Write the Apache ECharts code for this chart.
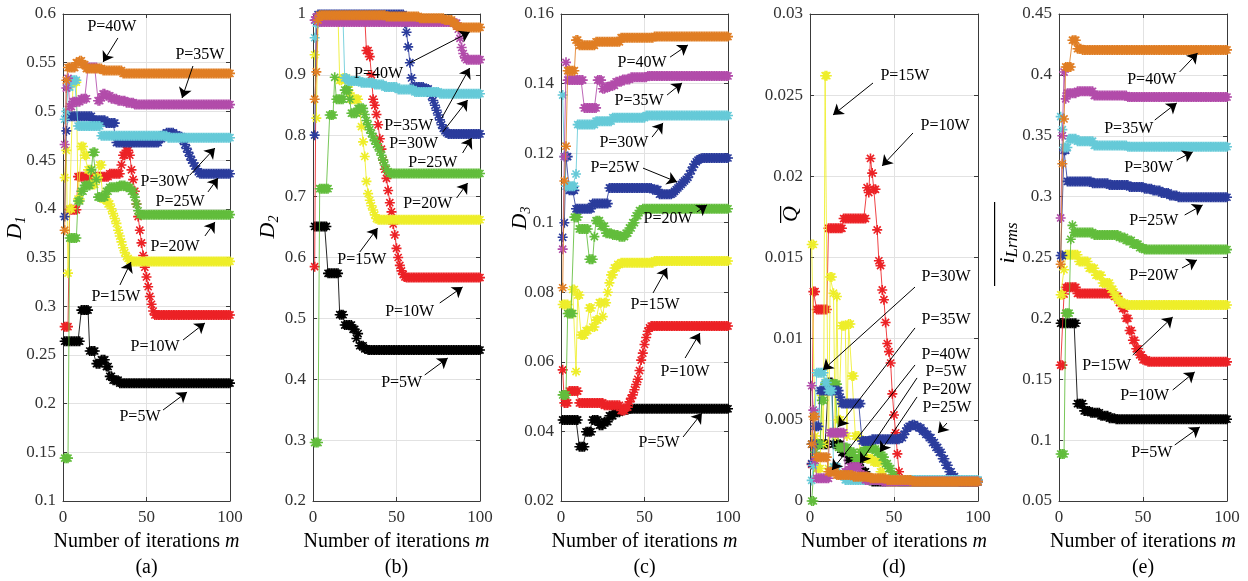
<!DOCTYPE html>
<html><head><meta charset="utf-8">
<script src="https://cdn.jsdelivr.net/npm/echarts/dist/echarts.min.js"></script>
<style>html,body{margin:0;padding:0;background:#fff}#c{width:1248px;height:581px}</style>
</head><body><div id="c"></div>
<script>
// ---------- labels ----------
const powerLabels = ['P=5W','P=10W','P=15W','P=20W','P=25W','P=30W','P=35W','P=40W'];
const iterTicks = [0, 50, 100];
// ---------- data: run-length lists [value, number of consecutive iterations], iterations 1..100 ----------
// (a) D1
const d1_5W  = [[0.264,10],[0.296,5],[0.254,4],[0.241,3],[0.245,3],[0.238,2],[0.228,2],[0.224,4],[0.221,67]];
const d1_10W = [[0.279,3],[0.399,5],[0.433,19],[0.436,7],[0.445,1],[0.455,2],[0.46,2],[0.455,1],[0.44,1],[0.43,1],[0.418,1],[0.405,1],[0.392,1],[0.378,1],[0.365,1],[0.352,1],[0.34,1],[0.33,1],[0.32,1],[0.31,1],[0.302,1],[0.295,1],[0.291,46]];
const d1_15W = [[0.432,1],[0.46,1],[0.334,1],[0.40,2],[0.53,3],[0.41,2],[0.464,2],[0.455,2],[0.44,2],[0.425,3],[0.432,2],[0.445,2],[0.41,3],[0.405,2],[0.40,1],[0.395,1],[0.39,1],[0.385,1],[0.378,1],[0.372,1],[0.366,1],[0.36,1],[0.355,1],[0.351,1],[0.349,1],[0.347,1],[0.346,60]];
const d1_20W = [[0.144,3],[0.37,5],[0.408,2],[0.418,2],[0.424,4],[0.44,1],[0.458,2],[0.43,1],[0.412,5],[0.418,2],[0.422,6],[0.424,4],[0.422,3],[0.418,2],[0.412,1],[0.405,1],[0.398,1],[0.394,55]];
const d1_25W = [[0.392,1],[0.48,1],[0.495,15],[0.491,8],[0.488,6],[0.468,26],[0.472,2],[0.476,2],[0.478,5],[0.476,2],[0.474,3],[0.47,1],[0.466,1],[0.462,1],[0.458,1],[0.454,1],[0.45,1],[0.447,1],[0.444,1],[0.441,1],[0.438,1],[0.436,19]];
const d1_30W = [[0.492,1],[0.50,1],[0.525,2],[0.532,4],[0.485,14],[0.475,40],[0.473,38]];
const d1_35W = [[0.466,1],[0.524,1],[0.534,1],[0.505,2],[0.51,5],[0.513,4],[0.545,6],[0.511,2],[0.514,1],[0.518,2],[0.516,3],[0.513,4],[0.511,5],[0.509,5],[0.507,58]];
const d1_40W = [[0.378,1],[0.532,1],[0.545,5],[0.55,2],[0.552,2],[0.548,2],[0.544,10],[0.542,12],[0.539,65]];
// (b) D2
const d2_5W  = [[0.651,8],[0.574,7],[0.506,3],[0.489,5],[0.482,2],[0.467,1],[0.475,1],[0.455,3],[0.45,2],[0.448,68]];
const d2_10W = [[0.585,1],[0.99,1],[0.995,29],[0.94,2],[0.93,1],[0.9,1],[0.86,1],[0.85,1],[0.835,1],[0.818,1],[0.795,1],[0.778,1],[0.76,1],[0.745,1],[0.73,1],[0.71,1],[0.69,1],[0.675,1],[0.655,1],[0.637,1],[0.615,1],[0.6,1],[0.587,1],[0.578,1],[0.572,1],[0.568,1],[0.567,45]];
const d2_15W = [[0.933,1],[0.829,1],[0.99,2],[0.995,11],[0.891,2],[0.895,3],[0.88,1],[0.87,1],[0.86,5],[0.84,1],[0.815,1],[0.79,1],[0.766,1],[0.725,1],[0.705,1],[0.694,1],[0.685,1],[0.678,1],[0.67,1],[0.664,1],[0.662,62]];
const d2_20W = [[0.296,3],[0.713,6],[0.834,3],[0.896,1],[0.86,5],[0.875,3],[0.86,1],[0.837,4],[0.845,4],[0.835,1],[0.825,1],[0.818,1],[0.81,1],[0.804,1],[0.798,1],[0.792,1],[0.786,1],[0.782,1],[0.775,1],[0.768,1],[0.76,1],[0.752,1],[0.745,1],[0.741,1],[0.738,55]];
const d2_25W = [[0.801,1],[0.99,1],[0.999,52],[0.985,1],[0.97,1],[0.946,1],[0.92,1],[0.895,1],[0.88,7],[0.877,3],[0.87,1],[0.865,1],[0.858,1],[0.85,1],[0.842,1],[0.834,1],[0.826,1],[0.818,1],[0.812,1],[0.808,1],[0.805,1],[0.803,20]];
const d2_30W = [[0.961,1],[0.985,2],[0.99,15],[0.895,2],[0.89,8],[0.887,8],[0.884,6],[0.88,8],[0.876,10],[0.872,15],[0.869,25]];
const d2_35W = [[0.99,1],[0.995,2],[0.987,80],[0.985,3],[0.975,1],[0.96,1],[0.945,1],[0.935,1],[0.928,1],[0.925,9]];
const d2_40W = [[0.86,1],[0.905,1],[0.99,1],[0.998,40],[0.996,20],[0.993,15],[0.99,5],[0.985,2],[0.98,2],[0.978,13]];
// (c) D3
const d3_5W  = [[0.0433,10],[0.0356,4],[0.0399,4],[0.0433,4],[0.0418,3],[0.0428,3],[0.0445,3],[0.0455,4],[0.0462,5],[0.0465,60]];
const d3_10W = [[0.0577,1],[0.0482,3],[0.0516,6],[0.0482,15],[0.0475,10],[0.046,3],[0.047,2],[0.0485,1],[0.0495,1],[0.0505,1],[0.052,1],[0.0535,1],[0.055,1],[0.0575,1],[0.0605,1],[0.0625,1],[0.065,1],[0.067,1],[0.0688,1],[0.0698,1],[0.0703,47]];
const d3_15W = [[0.0765,4],[0.074,2],[0.0808,2],[0.0572,1],[0.0792,2],[0.0677,3],[0.069,2],[0.0755,2],[0.07,2],[0.072,2],[0.077,2],[0.073,1],[0.077,2],[0.08,1],[0.0827,1],[0.085,2],[0.087,2],[0.088,2],[0.0885,20],[0.089,45]];
const d3_20W = [[0.0505,3],[0.0739,4],[0.1016,3],[0.0982,6],[0.0895,3],[0.096,1],[0.1006,3],[0.099,3],[0.097,4],[0.0965,4],[0.096,4],[0.097,2],[0.0985,2],[0.1,2],[0.102,2],[0.1035,2],[0.104,52]];
const d3_25W = [[0.0958,1],[0.1,1],[0.119,2],[0.1093,4],[0.104,10],[0.1055,10],[0.11,26],[0.1095,4],[0.1082,8],[0.1085,1],[0.109,1],[0.1095,1],[0.11,1],[0.1105,1],[0.111,1],[0.1115,1],[0.112,1],[0.1125,1],[0.113,1],[0.114,1],[0.115,1],[0.116,1],[0.1168,1],[0.1175,1],[0.118,1],[0.1183,1],[0.1185,1],[0.1186,16]];
const d3_30W = [[0.1367,1],[0.119,1],[0.1105,6],[0.114,1],[0.1282,11],[0.1292,10],[0.1302,20],[0.1308,50]];
const d3_35W = [[0.0924,1],[0.119,1],[0.1461,1],[0.141,10],[0.133,8],[0.141,3],[0.1385,2],[0.139,3],[0.1395,3],[0.1405,4],[0.1412,5],[0.1418,10],[0.1422,49]];
const d3_40W = [[0.0813,1],[0.112,1],[0.122,1],[0.1437,5],[0.1525,2],[0.151,10],[0.152,15],[0.1532,20],[0.1535,45]];
// (d) Q
const q_5W  = [[0.0035,10],[0.0073,3],[0.0035,5],[0.003,4],[0.0025,4],[0.0024,4],[0.0018,3],[0.0014,3],[0.0012,64]];
const q_10W = [[0.00225,1],[0.0129,2],[0.0118,7],[0.0168,9],[0.0174,14],[0.0193,1],[0.019,1],[0.0211,1],[0.0202,1],[0.0192,1],[0.0192,1],[0.0167,1],[0.0148,1],[0.0145,1],[0.013,1],[0.0124,1],[0.011,1],[0.0097,1],[0.0092,1],[0.0085,1],[0.0066,1],[0.0053,1],[0.0042,1],[0.0029,1],[0.0018,1],[0.0012,47]];
const q_15W = [[0.0158,2],[0.004,1],[0.002,3],[0.0065,1],[0.0035,1],[0.0262,2],[0.002,1],[0.0138,2],[0.0128,1],[0.004,1],[0.0126,1],[0.005,2],[0.0108,3],[0.004,1],[0.0109,2],[0.0077,2],[0.004,3],[0.003,4],[0.0026,4],[0.0024,4],[0.0018,2],[0.0014,2],[0.0012,55]];
const q_20W = [[0,2],[0.003,1],[0.0035,3],[0.0062,2],[0.0072,8],[0.0033,6],[0.003,4],[0.0026,3],[0.003,3],[0.0033,4],[0.0032,3],[0.003,3],[0.0027,2],[0.0023,2],[0.002,2],[0.0016,2],[0.0013,2],[0.0012,48]];
const q_25W = [[0.0023,1],[0.0035,1],[0.0046,3],[0.0068,12],[0.0064,1],[0.006,12],[0.0037,6],[0.0038,17],[0.0039,2],[0.0041,1],[0.0043,1],[0.0045,1],[0.0046,2],[0.0047,2],[0.0046,2],[0.0045,2],[0.0043,2],[0.0041,2],[0.0039,2],[0.0036,2],[0.0033,2],[0.003,2],[0.0026,2],[0.0022,2],[0.0018,2],[0.0015,2],[0.0013,2],[0.0012,12]];
const q_30W = [[0.00127,1],[0.0022,1],[0.0055,1],[0.0079,5],[0.0073,2],[0.0068,3],[0.0021,3],[0.0016,4],[0.0013,80]];
const q_35W = [[0.0071,1],[0.0056,1],[0.0025,1],[0.0014,8],[0.0042,9],[0.0018,3],[0.0021,6],[0.0016,3],[0.0013,10],[0.0012,58]];
const q_40W = [[0.0035,1],[0.0052,2],[0.0027,7],[0.0018,5],[0.0016,10],[0.0015,10],[0.0014,10],[0.0013,15],[0.0012,40]];
// (e) iLrms
const i_5W  = [[0.196,10],[0.1299,4],[0.124,4],[0.1225,6],[0.12,5],[0.118,4],[0.1172,67]];
const i_10W = [[0.1616,2],[0.22,1],[0.2255,7],[0.2205,22],[0.218,3],[0.213,2],[0.208,2],[0.2,2],[0.19,2],[0.182,2],[0.175,2],[0.17,2],[0.166,3],[0.1643,48]];
const i_15W = [[0.2194,2],[0.24,1],[0.2522,8],[0.2467,6],[0.2412,4],[0.2355,4],[0.229,5],[0.224,2],[0.219,2],[0.215,2],[0.2125,3],[0.211,61]];
const i_20W = [[0.0886,3],[0.2043,3],[0.265,1],[0.2764,1],[0.2705,12],[0.2685,15],[0.2665,4],[0.264,4],[0.261,4],[0.258,3],[0.2565,50]];
const i_25W = [[0.2516,2],[0.338,2],[0.3125,15],[0.311,10],[0.3095,12],[0.308,9],[0.3065,5],[0.305,5],[0.303,5],[0.301,5],[0.2995,30]];
const i_30W = [[0.3657,1],[0.355,1],[0.3404,3],[0.3475,5],[0.3455,10],[0.342,20],[0.341,60]];
const i_35W = [[0.2825,1],[0.35,1],[0.4023,1],[0.3803,1],[0.385,6],[0.3865,10],[0.383,20],[0.3818,60]];
const i_40W = [[0.2445,1],[0.327,1],[0.3638,1],[0.4065,4],[0.4285,3],[0.4215,3],[0.4205,87]];

// ---------- annotations (data units): [label, textX, textY, arrowFromX, arrowFromY, arrowToX, arrowToY] ----------
const notesA = [['P=40W',29.3,0.5867,32.9,0.5754,24.0,0.5507],['P=35W',82.0,0.5579,77.8,0.5466,71.3,0.5138],['P=30W',61.1,0.4275,76.0,0.4347,91.0,0.4624],['P=25W',70.1,0.407,86.8,0.4173,92.8,0.4316],['P=20W',67.1,0.3608,85.0,0.3721,91.0,0.3865],['P=15W',31.7,0.3094,34.1,0.3218,40.7,0.3454],['P=10W',55.1,0.2581,71.9,0.2653,85.0,0.2828],['P=5W',46.1,0.1862,59.9,0.1934,74.3,0.2119]];
const notesB = [['P=40W',39.3,0.9014,57.9,0.9195,93.8,0.9704],['P=35W',57.3,0.816,77.1,0.8292,93.8,0.9113],['P=30W',60.3,0.7864,77.7,0.8062,92.6,0.8587],['P=25W',71.7,0.7552,89.6,0.7717,95.0,0.7963],['P=20W',68.7,0.6879,86.0,0.6977,92.6,0.7224],['P=15W',29.2,0.5959,28.0,0.609,38.7,0.6485],['P=10W',57.9,0.5105,75.9,0.5253,89.6,0.5515],['P=5W',53.1,0.3938,66.9,0.407,80.7,0.4349]];
const notesC = [['P=40W',48.5,0.1459,65.3,0.1476,76.0,0.1511],['P=35W',46.7,0.135,63.5,0.1367,72.5,0.1402],['P=30W',37.7,0.1229,54.5,0.1246,61.1,0.1287],['P=25W',32.3,0.1157,49.1,0.1157,69.5,0.1117],['P=20W',64.1,0.1011,81.4,0.1031,87.4,0.1051],['P=15W',56.3,0.0763,55.1,0.0798,63.5,0.087],['P=10W',74.3,0.0571,74.3,0.0611,83.2,0.0683],['P=5W',58.7,0.0367,73.1,0.0384,84.4,0.0453]];
const notesD = [['P=15W',56.5,0.02618,37.5,0.02575,13.7,0.02378],['P=10W',80.4,0.0231,61.3,0.02267,42.9,0.02064],['P=30W',81.0,0.0138,62.5,0.01318,7.7,0.00807],['P=35W',81.0,0.01115,62.5,0.01066,16.7,0.00456],['P=40W',81.0,0.009,62.5,0.00838,13.1,0.00191],['P=5W',81.0,0.00795,63.7,0.00758,29.8,0.00234],['P=20W',81.5,0.00684,63.7,0.00641,41.7,0.00302],['P=25W',81.5,0.00573,81.5,0.0048,76.2,0.00419]];
const notesE = [['P=40W',55.2,0.3958,71.8,0.4024,82.5,0.418],['P=35W',41.5,0.3555,57.0,0.3629,70.1,0.3769],['P=30W',53.4,0.3235,70.1,0.3301,79.6,0.3367],['P=25W',56.4,0.28,74.8,0.2849,85.5,0.2931],['P=20W',56.4,0.2348,73.2,0.2414,82.1,0.248],['P=15W',28.4,0.1609,43.9,0.1699,67.7,0.2011],['P=10W',51.0,0.1362,67.7,0.1412,80.8,0.156],['P=5W',55.2,0.0894,68.9,0.096,83.8,0.1108]];

// ---------- styling ----------
const colors = ['#000000','#ec2226','#eeee2a','#62bd3c','#2b3c9c','#66cad8','#b24caa','#e07e24'];
const FONT = 'Liberation Serif';
const STAR = 'path://M5,0L5,10M0,5L10,5M1.46,1.46L8.54,8.54M1.46,8.54L8.54,1.46';

function expand(rl){ const out=[]; rl.forEach(([v,n])=>{ for(let k=0;k<n;k++) out.push(v); }); return out; }

const panels = [
  {left:63,  width:167, min:0.1,  max:0.6,  step:0.05,  sets:[d1_5W,d1_10W,d1_15W,d1_20W,d1_25W,d1_30W,d1_35W,d1_40W], notes:notesA, cap:'(a)'},
  {left:313, width:167, min:0.2,  max:1,    step:0.1,   sets:[d2_5W,d2_10W,d2_15W,d2_20W,d2_25W,d2_30W,d2_35W,d2_40W], notes:notesB, cap:'(b)'},
  {left:561, width:167, min:0.02, max:0.16, step:0.02,  sets:[d3_5W,d3_10W,d3_15W,d3_20W,d3_25W,d3_30W,d3_35W,d3_40W], notes:notesC, cap:'(c)'},
  {left:810, width:168, min:0,    max:0.03, step:0.005, sets:[q_5W,q_10W,q_15W,q_20W,q_25W,q_30W,q_35W,q_40W], notes:notesD, cap:'(d)'},
  {left:1059,width:168, min:0.05, max:0.45, step:0.05,  sets:[i_5W,i_10W,i_15W,i_20W,i_25W,i_30W,i_35W,i_40W], notes:notesE, cap:'(e)'}
];
const TOP = 14, H = 487;
const grid=[], xAxis=[], yAxis=[], series=[], graphic=[];
const axisCol = '#3a3a3a';
panels.forEach((p,k)=>{
  grid.push({left:p.left, top:TOP, width:p.width, height:H});
  const common = {axisLine:{show:true,onZero:false,lineStyle:{color:axisCol,width:1}}, axisTick:{show:true,inside:true,length:4,lineStyle:{color:axisCol}}};
  xAxis.push(Object.assign({type:'value',gridIndex:k,min:iterTicks[0],max:iterTicks[2],interval:iterTicks[1]-iterTicks[0],position:'bottom',
    axisLabel:{color:'#333',fontFamily:FONT,fontSize:17,margin:8},
    splitLine:{show:true,lineStyle:{color:'#e2e2e2',width:1}},
    name:'Number of iterations {m|m}', nameLocation:'middle', nameGap:31,
    nameTextStyle:{color:'#000',fontFamily:FONT,fontSize:20,rich:{m:{fontFamily:FONT,fontSize:20,fontStyle:'italic',color:'#000'}}}},common));
  xAxis.push(Object.assign({type:'value',gridIndex:k,min:0,max:100,interval:50,position:'top',axisLabel:{show:false},splitLine:{show:false}},common));
  yAxis.push(Object.assign({type:'value',gridIndex:k,min:p.min,max:p.max,interval:p.step,position:'left',
    axisLabel:{color:'#333',fontFamily:FONT,fontSize:17,margin:7},
    splitLine:{show:true,lineStyle:{color:'#e2e2e2',width:1}}},common));
  yAxis.push(Object.assign({type:'value',gridIndex:k,min:p.min,max:p.max,interval:p.step,position:'right',axisLabel:{show:false},splitLine:{show:false}},common));
  p.sets.forEach((rl,s)=>{
    const c = colors[s];
    series.push({type:'line', name:powerLabels[s], xAxisIndex:2*k, yAxisIndex:2*k,
      data: expand(rl).map((v,i)=>[i+1,v]),
      symbol:STAR, symbolSize:10, showSymbol:true, showAllSymbol:true, clip:false,
      lineStyle:{width:1,color:c,opacity:0.85},
      itemStyle:{color:c,borderColor:c,borderWidth:1.6},
      emphasis:{disabled:true}, silent:true, animation:false, z:2+s*0.01});
  });
  series.push({type:'scatter', xAxisIndex:2*k, yAxisIndex:2*k, data:[], silent:true, animation:false, z:5,
    markLine:{silent:true, animation:false, symbol:['none','arrow'], symbolSize:10,
      lineStyle:{color:'#000',width:1,type:'solid'}, label:{show:false}, emphasis:{disabled:true},
      data:p.notes.map(n=>[{coord:[n[3],n[4]]},{coord:[n[5],n[6]]}])},
    markPoint:{silent:true, animation:false, symbol:'circle', symbolSize:0,
      label:{show:true, position:'inside', formatter:'{b}', color:'#000', fontFamily:FONT, fontSize:16},
      data:p.notes.map(n=>({name:n[0], coord:[n[1],n[2]]}))}
  });
  graphic.push({type:'text', x:p.left+p.width/2, y:568, style:{text:p.cap, fill:'#000', font:'20px "Liberation Serif"', align:'center', verticalAlign:'middle'}});
});
// y-axis titles (rotated)
const ttlRich = {i:{fontFamily:FONT,fontSize:22,fontStyle:'italic',lineHeight:26,verticalAlign:'middle',fill:'#000'},
                 s:{fontFamily:FONT,fontSize:14,fontStyle:'italic',lineHeight:13,verticalAlign:'bottom',fill:'#000'},
                 l:{fontFamily:FONT,fontSize:17,fontStyle:'italic',lineHeight:16,verticalAlign:'bottom',fill:'#000'}};
[['{i|D}{s|1}',15,228],['{i|D}{s|2}',268,227],['{i|D}{s|3}',520,218],['{i|Q}',791,214],['{i|i}{l|Lrms}',1008,243]].forEach(t=>{
  graphic.push({type:'text', x:t[1], y:t[2], rotation:Math.PI/2, style:{text:t[0], rich:ttlRich, align:'center', verticalAlign:'middle'}});
});
graphic.push({type:'rect', shape:{x:780,y:206,width:1.2,height:17}, style:{fill:'#000'}});
graphic.push({type:'rect', shape:{x:994,y:202,width:1.2,height:84}, style:{fill:'#000'}});

const chart = echarts.init(document.getElementById('c'), null, {renderer:'canvas'});
chart.setOption({animation:false, backgroundColor:'#fff', grid, xAxis, yAxis, series, graphic});
</script>
</body></html>
